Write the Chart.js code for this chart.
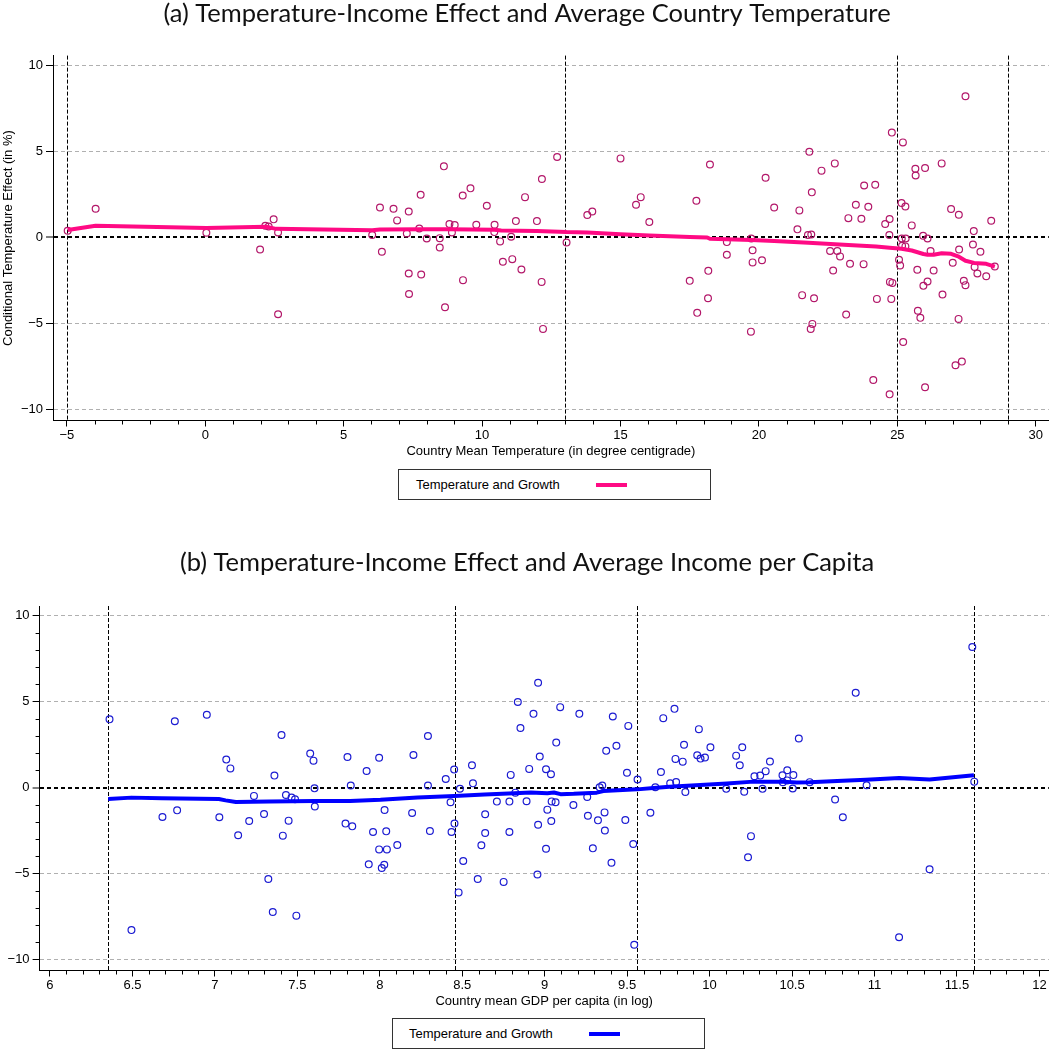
<!DOCTYPE html>
<html>
<head>
<meta charset="utf-8">
<script src="https://cdn.jsdelivr.net/npm/chart.js@4.4.1/dist/chart.umd.min.js"></script>
<style>
  html, body { margin: 0; padding: 0; background: #fff; }
  body { width: 1054px; height: 1049px; position: relative; overflow: hidden; }
  canvas { position: absolute; left: 0; }
  .legend { position: absolute; box-sizing: border-box; width: 313px; height: 31px;
            border: 1px solid #333; background: #fff;
            font: 13px "Liberation Sans", Arial, sans-serif; color: #000; }
  .legend .txt { position: absolute; top: 7px; line-height: 15px; white-space: nowrap; }
  .legend .swatch { position: absolute; top: 13px; width: 31px; height: 4px; }
</style>
</head>
<body>
<canvas id="chartA" width="1054" height="459" style="top:0px"></canvas>
<div class="legend" style="left:398px; top:469px">
  <span class="txt" style="left:17px">Temperature and Growth</span>
  <span class="swatch" style="left:197px; background:#ff0a84"></span>
</div>
<canvas id="chartB" width="1054" height="460" style="top:549px"></canvas>
<div class="legend" style="left:392px; top:1018px">
  <span class="txt" style="left:16px">Temperature and Growth</span>
  <span class="swatch" style="left:196px; background:#0000ff"></span>
</div>
<script>
/*** Two scatter plots of the conditional temperature effect,
 *   (a) against country mean temperature, (b) against log GDP per capita,
 *   each with its smoothed fit and dashed quartile lines.
 */

////////////
//// Data

// (a) country mean temperature (deg C) and conditional temperature effect (%)
let TEMP_MEAN = [
	-4.97, -3.96, 0.04, 1.98, 2.17, 2.29, 2.47, 2.63, 2.63, 6.03,
	6.31, 6.38, 6.80, 6.93, 7.28, 7.35, 7.35, 7.36, 7.73, 7.78,
	7.80, 8.00, 8.47, 8.47, 8.62, 8.66, 8.82, 8.91, 9.01, 9.30,
	9.31, 9.58, 9.79, 10.17, 10.44, 10.45, 10.65, 10.75, 11.05, 11.09,
	11.22, 11.42, 11.55, 11.98, 12.16, 12.15, 12.20, 12.71, 13.05, 13.80,
	13.98, 15.00, 15.56, 15.73, 16.04, 17.50, 17.74, 17.77, 18.17, 18.16,
	18.23, 18.84, 18.84, 19.71, 19.72, 19.77, 19.77, 20.11, 20.24, 20.55,
	21.39, 21.46, 21.56, 21.77, 21.82, 21.89, 21.91, 21.99, 21.93, 21.87,
	22.26, 22.57, 22.68, 22.74, 22.83, 22.93, 23.15, 23.23, 23.29, 23.50,
	23.70, 23.78, 23.80, 23.95, 24.13, 24.20, 24.26, 24.56, 24.71, 24.72,
	24.72, 24.73, 24.82, 24.78, 24.80, 25.06, 25.10, 25.15, 25.16, 25.20,
	25.21, 25.29, 25.30, 25.17, 25.29, 25.52, 25.65, 25.66, 25.72, 25.74,
	25.83, 25.93, 25.94, 26.00, 26.00, 26.09, 26.09, 26.20, 26.31, 26.60,
	26.63, 26.94, 27.00, 27.10, 27.22, 27.23, 27.21, 27.33, 27.40, 27.46,
	27.46, 27.73, 27.76, 27.79, 27.89, 28.00, 28.21, 28.39, 28.52
];
let TEMP_EFFECT = [
	0.39, 1.67, 0.27, -0.70, 0.68, 0.64, 1.05, 0.29, -4.46, 0.14,
	1.74, -0.83, 1.67, 0.99, 0.23, 1.51, -2.09, -3.28, 0.52, 2.48,
	-2.15, -0.06, -0.04, -0.58, 4.13, -4.05, 0.78, 0.29, 0.72, 2.44,
	-2.48, 2.85, 0.74, 1.84, 0.31, 0.74, -0.23, -1.41, 0.04, -1.26,
	0.95, -1.86, 2.34, 0.95, 3.39, -2.58, -5.31, 4.67, -0.29, 1.30,
	1.51, 4.59, 1.90, 2.34, 0.89, -2.52, 2.13, -4.38, -1.94, -3.53,
	4.24, -0.27, -1.01, -5.47, -0.06, -0.74, -1.45, -1.32, 3.47, 1.74,
	0.47, 1.57, -3.35, 0.14, 4.98, 0.17, 2.62, -3.53, -5.02, -5.31,
	3.88, -0.79, -1.92, 4.30, -0.79, -1.10, -4.48, 1.12, -1.53, 1.90,
	1.09, -1.55, 3.02, 1.78, -8.28, 3.06, -3.57, 0.78, 0.14, 1.07,
	-9.11, -2.58, -2.64, -3.57, 6.09, -1.30, -1.63, 2.00, -0.06, 5.52,
	-6.07, 1.80, -0.06, -0.48, -0.52, 0.70, 3.99, 3.60, -1.88, -4.26,
	-4.67, 0.10, -2.81, 4.03, -8.70, -0.06, -2.56, -0.79, -1.92, 4.30,
	-3.31, 1.65, -1.47, -7.42, 1.32, -0.70, -4.73, -7.21, -2.52, -2.77,
	8.20, -0.41, 0.37, -1.72, -2.09, -0.83, -2.25, 0.97, -1.69
];
// smoothed fit
let TEMP_FIT_X = [-4.97, -3.96, 0.04, 2.19, 2.56, 6.03, 6.31, 7.78, 8.82, 10.45, 10.69, 11.98,
	13.05, 13.80, 15.00, 16.04, 17.50, 18.13, 18.23, 19.72, 20.55, 21.79, 23.23, 24.23,
	24.72, 25.15, 25.52, 25.94, 26.09, 26.31, 26.60, 26.94, 27.22, 27.46, 27.77, 28.21, 28.52];
let TEMP_FIT_Y = [0.43, 0.68, 0.55, 0.62, 0.50, 0.42, 0.46, 0.48, 0.47, 0.45, 0.41, 0.38,
	0.31, 0.29, 0.18, 0.11, 0.03, 0.00, -0.08, -0.15, -0.20, -0.31, -0.44, -0.53,
	-0.60, -0.66, -0.76, -0.96, -1.00, -1.00, -0.92, -0.95, -1.12, -1.35, -1.48, -1.53, -1.69];
let TEMP_LINES = [-5, 13, 25, 29];
let TEMP_TICKS = [-5, 0, 5, 10, 15, 20, 25, 30];

// (b) log GDP per capita and conditional temperature effect (%)
let GDP_LOG = [
	6.361, 6.494, 6.682, 6.757, 6.771, 6.951, 7.027, 7.069, 7.094, 7.141,
	7.208, 7.237, 7.298, 7.324, 7.351, 7.361, 7.404, 7.412, 7.431, 7.447,
	7.465, 7.486, 7.494, 7.578, 7.598, 7.604, 7.606, 7.792, 7.804, 7.824,
	7.833, 7.920, 7.933, 7.959, 7.996, 7.996, 8.012, 8.027, 8.029, 8.039,
	8.043, 8.106, 8.196, 8.204, 8.292, 8.292, 8.304, 8.400, 8.429, 8.435,
	8.451, 8.453, 8.478, 8.486, 8.506, 8.559, 8.565, 8.594, 8.616, 8.639,
	8.639, 8.710, 8.751, 8.786, 8.786, 8.794, 8.822, 8.837, 8.853, 8.890,
	8.906, 8.932, 8.960, 8.970, 8.960, 8.956, 9.008, 9.016, 9.008, 9.038,
	9.042, 9.066, 9.040, 9.070, 9.094, 9.174, 9.210, 9.258, 9.262, 9.292,
	9.323, 9.333, 9.349, 9.363, 9.365, 9.373, 9.405, 9.413, 9.435, 9.489,
	9.499, 9.507, 9.537, 9.543, 9.563, 9.641, 9.671, 9.705, 9.719, 9.761,
	9.787, 9.797, 9.793, 9.837, 9.845, 9.853, 9.925, 9.935, 9.945, 9.972,
	10.005, 10.101, 10.161, 10.183, 10.198, 10.210, 10.233, 10.251, 10.272, 10.307,
	10.321, 10.340, 10.366, 10.442, 10.444, 10.470, 10.471, 10.504, 10.508, 10.541,
	10.607, 10.761, 10.808, 10.886, 10.952, 11.149, 11.334, 11.593, 11.605
];
let GDP_EFFECT = [
	3.97, -8.28, -1.71, 3.86, -1.32, 4.24, -1.72, 1.63, 1.12, -2.77,
	-1.94, -0.48, -1.53, -5.31, -7.23, 0.70, 3.06, -2.79, -0.43, -1.92,
	-0.58, -0.68, -7.44, 1.98, 1.57, -0.04, -1.10, -2.09, 1.78, 0.12,
	-2.25, 0.97, -4.46, -2.58, 1.74, -3.59, -4.67, -4.48, -1.30, -2.54,
	-3.59, -3.33, -1.47, 1.90, 3.00, 0.12, -2.52, 0.50, -0.85, -2.58,
	1.05, -2.09, -6.09, -0.06, -4.26, 1.30, 0.25, -5.31, -3.35, -1.55,
	-2.64, -0.81, -5.48, -0.81, -2.58, 0.74, -0.29, 4.98, 3.47, -0.79,
	1.09, 4.29, 6.10, 1.81, -2.16, -5.05, 1.07, -1.28, -3.55, 0.78,
	-0.80, -0.85, -1.94, 2.62, 4.68, -1.01, 4.29, -0.54, -1.63, -3.53,
	-1.90, 0.02, 0.12, -1.44, -2.49, 2.14, -4.37, 4.14, 2.43, -1.88,
	0.87, 3.59, -3.28, -9.13, 0.47, -1.46, 0.02, 0.91, 4.04, 0.25,
	4.58, 0.33, 1.67, 1.51, 2.49, -0.25, 1.88, 3.40, 1.69, 1.75,
	2.35, -0.07, 1.86, 1.30, 2.35, -0.24, -4.05, -2.82, 0.66, 0.70,
	-0.07, 0.96, 1.52, 0.72, 0.31, 0.42, 1.01, -0.05, 0.73, 2.86,
	0.32, -0.69, -1.72, 5.51, 0.14, -8.70, -4.74, 8.18, 0.35
];
// smoothed fit
let GDP_FIT_X = [6.353, 6.494, 6.678, 7.024, 7.065, 7.127, 7.331, 7.606, 7.820, 8.004, 8.229, 8.453,
	8.635, 8.816, 8.916, 9.016, 9.056, 9.096, 9.176, 9.316, 9.356, 9.561, 9.677, 9.757,
	9.917, 10.105, 10.266, 10.446, 10.527, 10.607, 10.808, 10.948, 11.149, 11.334, 11.603];
let GDP_FIT_Y = [-0.66, -0.58, -0.61, -0.66, -0.74, -0.83, -0.80, -0.78, -0.77, -0.71, -0.57, -0.48,
	-0.40, -0.33, -0.28, -0.32, -0.28, -0.38, -0.36, -0.29, -0.20, -0.10, 0.00, 0.05,
	0.14, 0.24, 0.35, 0.35, 0.30, 0.31, 0.40, 0.46, 0.56, 0.48, 0.72];
let GDP_LINES = [6.353, 8.455, 9.561, 11.603];
let GDP_TICKS = [6, 6.5, 7, 7.5, 8, 8.5, 9, 9.5, 10, 10.5, 11, 11.5, 12];

let EFFECT_TICKS = [-10, -5, 0, 5, 10];

////////////
//// Helpers

function pairs(xs, ys) {
	return xs.map((x, i) => ({x: x, y: ys[i]}));
}

// minor tick positions between labelled ticks
function minorTicks(from, to, step, skipEvery) {
	let out = [];
	let n = Math.round((to - from) / step);
	for (let i = 0; i <= n; ++i) {
		if (i % skipEvery != 0) out.push(from + i * step);
	}
	return out;
}

function fmt(v) {
	return v < 0 ? '\u2212' + Math.abs(v) : String(v);
}

let TICK_FONT = {family: '"Liberation Sans", Arial, sans-serif', size: 13};
let AXIS_FONT = {family: '"Liberation Sans", Arial, sans-serif', size: 13};

// dashed vertical lines at the quartiles
let refLines = {
	id: 'refLines',
	beforeDatasetsDraw(chart, args, opts) {
		let ctx = chart.ctx, area = chart.chartArea, xs = chart.scales.x;
		ctx.save();
		ctx.strokeStyle = '#000';
		ctx.lineWidth = 1;
		ctx.setLineDash([4, 2]);
		for (let v of opts.values) {
			let px = Math.round(xs.getPixelForValue(v)) + 0.5;
			ctx.beginPath();
			ctx.moveTo(px, area.top);
			ctx.lineTo(px, area.bottom);
			ctx.stroke();
		}
		ctx.restore();
	}
};

// short unlabelled ticks on the axes
let minorTickMarks = {
	id: 'minorTickMarks',
	afterDraw(chart, args, opts) {
		let ctx = chart.ctx, area = chart.chartArea;
		ctx.save();
		ctx.strokeStyle = '#000';
		ctx.lineWidth = 1;
		for (let v of opts.x || []) {
			let px = Math.round(chart.scales.x.getPixelForValue(v)) + 0.5;
			ctx.beginPath();
			ctx.moveTo(px, area.bottom);
			ctx.lineTo(px, area.bottom + 4);
			ctx.stroke();
		}
		for (let v of opts.y || []) {
			let py = Math.round(chart.scales.y.getPixelForValue(v)) + 0.5;
			ctx.beginPath();
			ctx.moveTo(area.left - 4, py);
			ctx.lineTo(area.left, py);
			ctx.stroke();
		}
		ctx.restore();
	}
};

function makeChart(canvasId, c) {
	return new Chart(document.getElementById(canvasId), {
		type: 'scatter',
		data: {
			datasets: [{
				type: 'line',
				label: 'Temperature and Growth',
				data: pairs(c.fitX, c.fitY),
				showLine: true,
				borderColor: c.lineColor,
				borderWidth: 4,
				borderJoinStyle: 'round',
				pointRadius: 0,
				tension: 0,
				fill: false,
				order: 0
			}, {
				type: 'scatter',
				label: 'countries',
				data: pairs(c.xs, c.ys),
				pointRadius: 3.4,
				pointBorderWidth: 1.2,
				pointBorderColor: c.markerColor,
				pointBackgroundColor: 'rgba(0,0,0,0)',
				order: 1
			}]
		},
		options: {
			responsive: false,
			animation: false,
			layout: {padding: 0},
			plugins: {
				legend: {display: false},
				tooltip: {enabled: false},
				title: {
					display: true,
					text: c.title,
					color: '#111',
					font: {family: 'Lato', size: 25.5, weight: 'normal', lineHeight: 1},
					padding: {top: 1, bottom: c.titleGap}
				},
				refLines: {values: c.lines},
				minorTickMarks: {x: c.minorX, y: c.minorY}
			},
			scales: {
				x: {
					type: 'linear',
					min: c.xMin,
					max: c.xMax,
					afterBuildTicks: s => { s.ticks = c.xTicks.map(v => ({value: v})); },
					afterFit: s => { s.height = c.xAxisHeight; },
					ticks: {font: TICK_FONT, color: '#000', padding: 1, autoSkip: false, maxRotation: 0, callback: v => fmt(v)},
					grid: {drawOnChartArea: false, drawTicks: true, tickLength: 6, tickColor: '#000'},
					border: {display: true, color: '#000', width: 1},
					title: {display: true, text: c.xTitle, font: AXIS_FONT, color: '#000', padding: 0}
				},
				y: {
					type: 'linear',
					min: -10.63,
					max: 10.56,
					afterBuildTicks: s => { s.ticks = EFFECT_TICKS.map(v => ({value: v})); },
					afterFit: s => { s.width = c.yAxisWidth; },
					ticks: {font: TICK_FONT, color: '#000', padding: 3, autoSkip: false, callback: v => fmt(v)},
					grid: {
						drawOnChartArea: true,
						drawTicks: true,
						tickLength: 7,
						tickColor: '#000',
						tickWidth: 1,
						color: ctx => ctx.tick && ctx.tick.value === 0 ? '#000' : '#b0b0b0',
						lineWidth: ctx => ctx.tick && ctx.tick.value === 0 ? 2 : 1
					},
					border: {display: true, color: '#000', width: 1, dash: [4, 3]},
					title: {display: !!c.yTitle, text: c.yTitle || '', font: AXIS_FONT, color: '#000', padding: {top: 1, bottom: 0}}
				}
			}
		},
		plugins: [refLines, minorTickMarks]
	});
}

////////////
//// Script

makeChart('chartA', {
	title: '(a) Temperature-Income Effect and Average Country Temperature',
	titleGap: 29.1,
	xs: TEMP_MEAN, ys: TEMP_EFFECT,
	fitX: TEMP_FIT_X, fitY: TEMP_FIT_Y,
	lines: TEMP_LINES,
	xTicks: TEMP_TICKS,
	minorX: minorTicks(-5, 30, 1, 5),
	minorY: [],
	xMin: -5.5, xMax: 30.47,
	xAxisHeight: 38.5,
	yAxisWidth: 53,
	xTitle: 'Country Mean Temperature (in degree centigrade)',
	yTitle: 'Conditional Temperature Effect (in %)',
	markerColor: '#b3186a',
	lineColor: '#ff0a84'
});

makeChart('chartB', {
	title: '(b) Temperature-Income Effect and Average Income per Capita',
	titleGap: 30.5,
	xs: GDP_LOG, ys: GDP_EFFECT,
	fitX: GDP_FIT_X, fitY: GDP_FIT_Y,
	lines: GDP_LINES,
	xTicks: GDP_TICKS,
	minorX: minorTicks(6, 12, 0.1, 5),
	minorY: minorTicks(-10, 10, 1, 5),
	xMin: 5.937, xMax: 12.057,
	xAxisHeight: 38.5,
	yAxisWidth: 39.6,
	xTitle: 'Country mean GDP per capita (in log)',
	yTitle: null,
	markerColor: '#1c1cd2',
	lineColor: '#0000ff'
});
</script>
</body>
</html>
